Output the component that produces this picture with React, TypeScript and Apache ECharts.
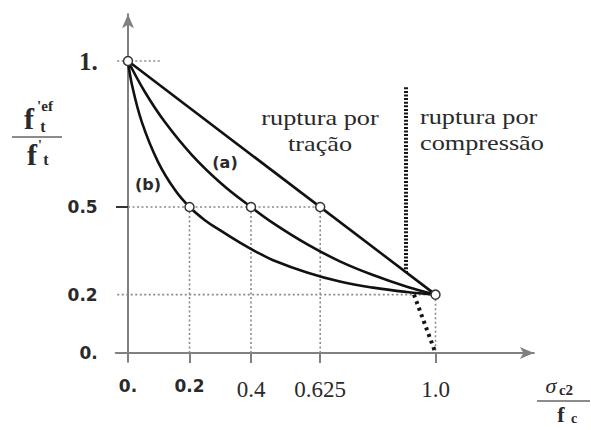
import React, { useEffect, useRef } from "react";
import * as echarts from "echarts";

// ---- data ----
const xTickValues = [0, 0.2, 0.4, 0.625, 1.0];
const xTickLabels = ["0.", "0.2", "0.4", "0.625", "1.0"];
const xTickFonts = ["sans", "sans", "serif", "serif", "serif"];
const xTickMarks = [0.2, 0.4, 0.625, 1.0];

const yTickValues = [0, 0.2, 0.5, 1];
const yTickLabels = ["0.", "0.2", "0.5", "1."];
const yTickFonts = ["sans", "sans", "sans", "serifb"];
const yTickMarks = [0.5];

const straightLine = [
  [0, 1],
  [1, 0.2],
];
const curveA = [
  [0, 1],
  [0.055, 0.894],
  [0.12, 0.791],
  [0.208, 0.678],
  [0.306, 0.578],
  [0.4, 0.5],
  [0.472, 0.445],
  [0.582, 0.373],
  [0.689, 0.314],
  [0.797, 0.267],
  [0.907, 0.227],
  [1, 0.2],
];
const curveB = [
  [0, 1],
  [0.013, 0.918],
  [0.045, 0.791],
  [0.098, 0.654],
  [0.153, 0.558],
  [0.2, 0.5],
  [0.25, 0.455],
  [0.3, 0.42],
  [0.364, 0.378],
  [0.42, 0.345],
  [0.472, 0.318],
  [0.582, 0.276],
  [0.689, 0.245],
  [0.797, 0.224],
  [0.907, 0.209],
  [1, 0.2],
];
const keyPoints = [
  [0, 1],
  [0.2, 0.5],
  [0.4, 0.5],
  [0.625, 0.5],
  [1, 0.2],
];
const guideSegments = [
  [[-0.035, 1], [0.11, 1]],
  [[0, 0.5], [0.625, 0.5]],
  [[-0.035, 0.2], [1, 0.2]],
  [[0.2, 0.5], [0.2, 0]],
  [[0.4, 0.5], [0.4, 0]],
  [[0.625, 0.5], [0.625, 0]],
  [[1, 0.2], [1, 0]],
];
const compressionLimit = [
  [0.904, 0.91],
  [0.904, 0.277],
];
const compressionTail = [
  [0.93, 0.2],
  [1, 0],
];

const SERIF = "'Liberation Serif', 'DejaVu Serif', serif";
const SANS = "'DejaVu Sans', Verdana, sans-serif";
const TXT = "#2a2a2a";

export default function App() {
  const ref = useRef<HTMLDivElement>(null);
  useEffect(() => {
    if (!ref.current) return;
    const chart = echarts.init(ref.current, undefined, { renderer: "svg" });
    const axisLineStyle = { color: "#808080", width: 2 };
    const rich = {
      sans: { fontFamily: SANS, fontWeight: "bold", fontSize: 17, color: TXT },
      serif: { fontFamily: SERIF, fontSize: 23, color: TXT },
      serifb: { fontFamily: SERIF, fontWeight: "bold", fontSize: 25, color: TXT },
    };
    const findIdx = (arr: number[], v: number) =>
      arr.findIndex((a) => Math.abs(a - v) < 1e-6);

    const series: any[] = [];
    guideSegments.forEach((seg) => {
      series.push({
        type: "line",
        data: seg,
        symbol: "none",
        z: 1,
        lineStyle: { color: "#8a8a8a", width: 1.6, type: [2, 2.5] },
      });
    });
    series.push({
      type: "line",
      data: compressionLimit,
      symbol: "none",
      z: 2,
      lineStyle: { color: "#151515", width: 4, type: [2, 1.6] },
    });
    series.push({
      type: "line",
      data: compressionTail,
      symbol: "none",
      z: 2,
      lineStyle: { color: "#151515", width: 4, type: [3, 4] },
    });
    series.push({
      type: "line",
      data: straightLine,
      symbol: "none",
      z: 3,
      lineStyle: { color: "#111", width: 2.6 },
    });
    series.push({
      type: "line",
      data: curveA,
      symbol: "none",
      smooth: 0.4,
      z: 3,
      lineStyle: { color: "#111", width: 2.6 },
    });
    series.push({
      type: "line",
      data: curveB,
      symbol: "none",
      smooth: 0.4,
      z: 3,
      lineStyle: { color: "#111", width: 2.6 },
    });
    series.push({
      type: "scatter",
      data: keyPoints,
      symbol: "circle",
      symbolSize: 9,
      z: 5,
      itemStyle: { color: "#fff", borderColor: "#333", borderWidth: 1.5, opacity: 1 },
    });

    const t = (text: string, x: number, y: number, font: any, extra: any = {}) => ({
      type: "text",
      x,
      y,
      ...extra,
      style: {
        text,
        fill: TXT,
        textAlign: "center",
        textVerticalAlign: "middle",
        ...font,
      },
    });

    chart.setOption({
      animation: false,
      backgroundColor: "#fff",
      grid: { left: 115.7, top: 14.3, width: 418.2, height: 347.5 },
      xAxis: {
        type: "value",
        min: -0.04,
        max: 1.32,
        splitLine: { show: false },
        axisLine: {
          onZero: true,
          symbol: ["none", "arrow"],
          symbolSize: [9, 14],
          lineStyle: axisLineStyle,
        },
        axisTick: {
          customValues: xTickMarks,
          length: 10,
          lineStyle: { color: "#808080", width: 2 },
        },
        axisLabel: {
          customValues: xTickValues,
          margin: 16,
          formatter: (v: number) => {
            const i = findIdx(xTickValues, v);
            return i < 0 ? "" : `{${xTickFonts[i]}|${xTickLabels[i]}}`;
          },
          rich,
        },
      },
      yAxis: {
        type: "value",
        min: -0.03,
        max: 1.16,
        splitLine: { show: false },
        axisLine: {
          onZero: true,
          symbol: ["none", "arrow"],
          symbolSize: [9, 14],
          lineStyle: axisLineStyle,
        },
        axisTick: {
          customValues: yTickMarks,
          length: 12,
          lineStyle: { color: "#333", width: 2 },
        },
        axisLabel: {
          customValues: yTickValues,
          margin: 18,
          formatter: (v: number) => {
            const i = findIdx(yTickValues, v);
            return i < 0 ? "" : `{${yTickFonts[i]}|${yTickLabels[i]}}`;
          },
          rich,
        },
      },
      series,
      graphic: [
        // curve tags
        t("(a)", 225, 162, { font: `bold 16px ${SANS}` }),
        t("(b)", 148, 184, { font: `bold 16px ${SANS}` }),
        // region texts
        t("ruptura por\ntração", 320, 131, { font: `21px ${SERIF}`, lineHeight: 26 }, { scaleX: 1.25 }),
        {
          type: "text",
          x: 420,
          y: 130,
          scaleX: 1.25,
          style: {
            text: "ruptura por\ncompressão",
            fill: TXT,
            textAlign: "left",
            textVerticalAlign: "middle",
            font: `21px ${SERIF}`,
            lineHeight: 26,
          },
        },
        // y-axis title (fraction)
        t("f", 29, 118, { font: `bold 30px ${SERIF}` }),
        t("'ef", 45, 106, { font: `bold 15px ${SERIF}` }),
        t("t", 43, 126, { font: `bold 16px ${SERIF}` }),
        {
          type: "line",
          shape: { x1: 12, y1: 137, x2: 62, y2: 137 },
          style: { stroke: "#666", lineWidth: 1.5 },
        },
        t("f", 32, 154, { font: `bold 30px ${SERIF}` }),
        t("'", 40, 145, { font: `bold 14px ${SERIF}` }),
        t("t", 46, 159, { font: `bold 16px ${SERIF}` }),
        // x-axis title (fraction)
        t("σ", 551, 385, { font: `italic 22px ${SERIF}` }),
        t("c2", 566, 390, { font: `bold 15px ${SERIF}` }),
        {
          type: "line",
          shape: { x1: 537, y1: 401, x2: 590, y2: 401 },
          style: { stroke: "#666", lineWidth: 1.5 },
        },
        t("f", 561, 414, { font: `bold 22px ${SERIF}` }),
        t("c", 574, 418, { font: `bold 14px ${SERIF}` }),
      ],
    });
    return () => chart.dispose();
  }, []);
  return (
    <div
      ref={ref}
      style={{ position: "fixed", left: 0, top: 0, width: 591, height: 430, background: "#fff" }}
    />
  );
}
